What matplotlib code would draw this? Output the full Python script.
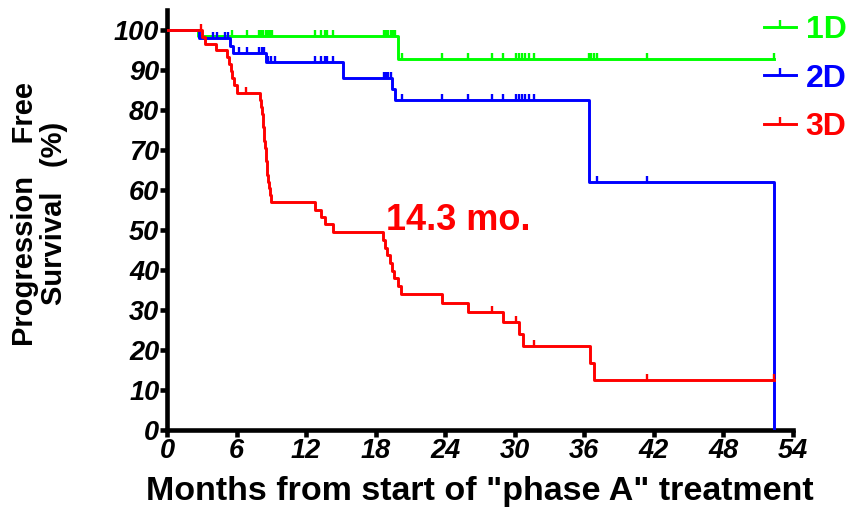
import numpy as np
import matplotlib.pyplot as plt
from matplotlib.lines import Line2D

plt.rcParams['font.family'] = ['Liberation Sans', 'DejaVu Sans']

# Kaplan-Meier steps (months, % progression free)
green_t = [0, 2.7, 19.9, 52.4]
green_s = [100, 98.5, 92.7, 92.7]
green_cens = [5.6, 6.9, 7.9, 8.1, 8.3, 8.5, 8.7, 8.9, 9.1, 12.8, 13.3, 13.6, 13.8, 14.3,
              18.7, 18.9, 19.1, 19.3, 19.5, 19.7, 20.3, 23.7, 26.0, 28.0, 29.0,
              30.1, 30.4, 30.6, 30.9, 31.2, 31.7, 36.4, 36.6, 36.8, 37.1, 41.4, 52.4]

blue_t = [0, 2.8, 5.45, 5.7, 8.5, 15.2, 19.45, 19.65, 36.4, 52.4]
blue_s = [100, 97.9, 96.0, 94.2, 92.1, 87.9, 85.2, 82.5, 62.0, 0]
blue_cens = [4.0, 4.3, 5.0, 5.3, 6.2, 6.9, 7.9, 8.2, 8.4, 8.7, 9.0, 9.3,
             12.8, 13.3, 13.6, 13.8, 14.3, 18.7, 18.9, 19.1, 19.3,
             20.3, 23.7, 26.0, 28.0, 29.0, 30.1, 30.4, 30.6, 30.9, 31.2, 31.7, 37.1, 41.4]

red_t = [0, 3.0, 3.3, 4.2, 5.2, 5.35, 5.5, 5.65, 5.8, 6.0,
         8.0, 8.1, 8.2, 8.25, 8.3, 8.35, 8.4, 8.45, 8.5, 8.55, 8.6, 8.65, 8.7, 8.8, 8.9, 9.0,
         12.8, 13.3, 13.6, 14.3,
         18.6, 18.8, 19.0, 19.2, 19.4, 19.6, 19.9, 20.2,
         23.7, 26.0, 29.0, 30.35, 30.7, 36.5, 36.8, 52.4]
red_s = [100, 98.3, 96.6, 94.9, 93.2, 91.5, 89.8, 88.1, 86.2, 84.2,
         82.5, 80.8, 79.1, 77.4, 75.7, 74.0, 72.3, 70.6, 68.9, 67.2, 65.5, 63.8, 62.1, 60.4, 58.7, 57.0,
         55.1, 53.2, 51.4, 49.5,
         47.6, 45.6, 43.7, 41.8, 39.8, 37.9, 35.9, 34.0,
         31.7, 29.4, 26.9, 23.9, 21.0, 16.8, 12.6, 12.6]
red_cens = [2.9, 6.8, 28.0, 30.1, 31.7, 41.4, 52.4]

groups = ['1D', '2D', '3D']
colors = ['#00ff00', '#0000ff', '#ff0000']


def surv_at(t, s, c):
    idx = np.searchsorted(t, c, side='right') - 1
    return np.asarray(s)[idx]


fig = plt.figure(figsize=(8.54, 5.11), dpi=100)
ax = fig.add_axes([167/854, 1 - 430/511, (793 - 167)/854, 420/511])

curves = [(green_t, green_s, green_cens), (blue_t, blue_s, blue_cens), (red_t, red_s, red_cens)]
handles = []
for (t, s, cens), col, name in zip(curves, colors, groups):
    ax.step(t, s, where='post', color=col, lw=2.1, zorder=3)
    cs = surv_at(t, s, cens)
    # censored marks drawn as small upward ticks
    ax.plot(cens, np.where(cs == 0, np.nan, cs), ls='none', marker=2, ms=4,
            mew=1.7, color=col, zorder=3)
    handles.append(Line2D([], [], color=col, lw=2.1, marker=2, ms=5, mew=1.7))

ax.text(18.9, 52.5, '14.3 mo.', color='#ff0000', fontsize=26, fontweight='bold',
        va='center', ha='left')

ax.set_xlim(0, 54)
ax.set_ylim(0, 105)
ax.set_xticks(np.arange(0, 55, 6))
ax.set_yticks(np.arange(0, 101, 10))
for sp in ['top', 'right']:
    ax.spines[sp].set_visible(False)
for sp in ['left', 'bottom']:
    ax.spines[sp].set_linewidth(3.3)
ax.tick_params(width=3.3, length=5, direction='out', pad=0.5)
for lab in ax.get_xticklabels() + ax.get_yticklabels():
    lab.set_fontsize(19.5)
    lab.set_fontweight('bold')
    lab.set_fontstyle('italic')

ax.set_xlabel('Months from start of "phase A" treatment', fontsize=24.5,
              fontweight='bold', labelpad=9)
ax.set_ylabel('Progression    Free\nSurvival   (%)', fontsize=21, fontweight='bold',
              linespacing=1.05)
ax.yaxis.set_label_coords(-0.158, 0.515)

leg = fig.legend(handles, groups, loc='upper left', bbox_to_anchor=(764/854, 1 - 15/511),
                 frameon=False, handlelength=1.0, handletextpad=0.3,
                 labelspacing=0.58, borderpad=0, borderaxespad=0,
                 prop={'weight': 'bold', 'size': 23})
for txt, col in zip(leg.get_texts(), colors):
    txt.set_color(col)

fig.savefig('out.png', dpi=100)
